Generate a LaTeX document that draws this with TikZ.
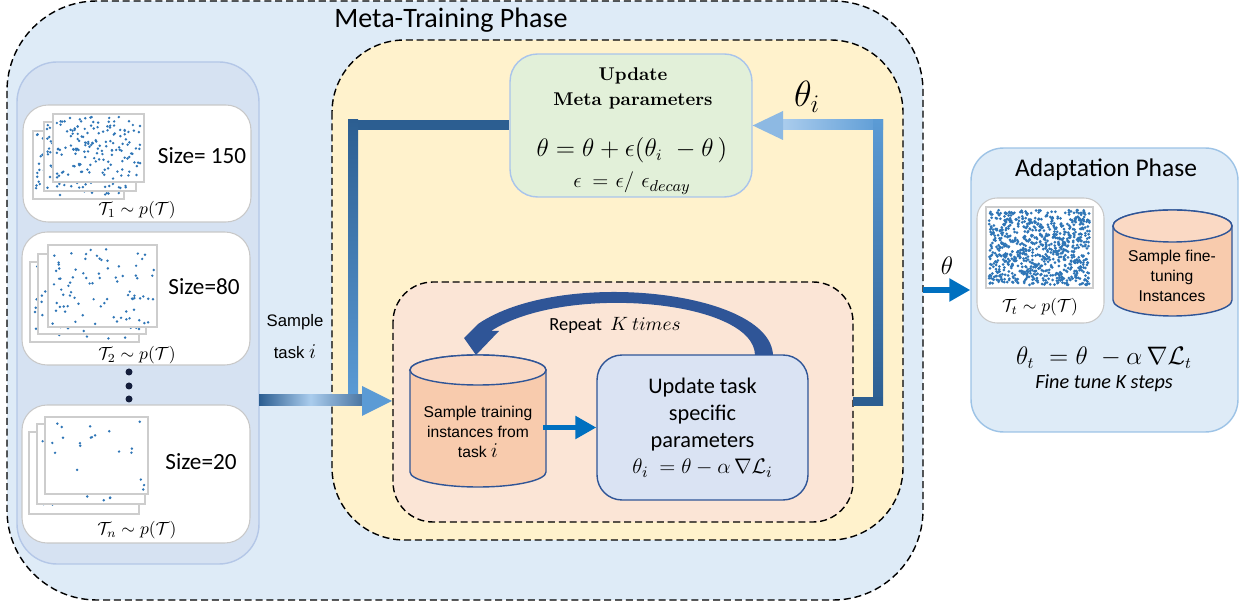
\documentclass[tikz,border=0pt]{standalone}
\usepackage{amsmath,amssymb}
\usepackage{fontspec}
\newfontfamily\calib{Carlito}
\newfontfamily\arial{Liberation Sans}
\usepackage{tikz}
\usetikzlibrary{arrows.meta}
\definecolor{metabg}{RGB}{222,235,247}
\definecolor{panelbg}{RGB}{214,226,242}
\definecolor{panelline}{RGB}{180,199,231}
\definecolor{cardline}{RGB}{200,200,200}
\definecolor{plotline}{RGB}{205,205,205}
\definecolor{innerbg}{RGB}{255,242,204}
\definecolor{loopbg}{RGB}{251,229,214}
\definecolor{greenbg}{RGB}{226,240,217}
\definecolor{greenline}{RGB}{169,196,235}
\definecolor{cylfill}{RGB}{248,203,173}
\definecolor{cyltop}{RGB}{250,217,196}
\definecolor{darkblue}{RGB}{47,85,151}
\definecolor{taskbg}{RGB}{218,227,243}
\definecolor{adaptline}{RGB}{157,195,230}
\definecolor{arrowblue}{RGB}{0,112,192}
\definecolor{dotblue}{RGB}{46,117,182}
\definecolor{loopdark}{RGB}{44,94,145}
\definecolor{looplight}{RGB}{91,155,213}
\definecolor{looppale}{RGB}{141,185,227}
\definecolor{barpale}{RGB}{170,204,237}
\definecolor{navy}{RGB}{20,30,60}

% x1, y1, x2, y2, number of dots, dot radius (px)
\newcommand{\taskplot}[6]{%
  \draw [draw=plotline, fill=white, line width=0.6pt] (#1,#2) rectangle (#3,#4);
  \foreach \k in {1,...,#5}{
    \pgfmathsetmacro\px{#1+3+rnd*(#3-#1-6)}
    \pgfmathsetmacro\py{#2+3+rnd*(#4-#2-6)}
    \fill [dotblue] (\px,\py) circle (#6*0.02cm);
  }}
% centre x, top y, bottom y, x radius, y radius (px)
\newcommand{\drum}[5]{%
  \pgfmathsetmacro\drx{#4*0.02}
  \pgfmathsetmacro\dry{#5*0.02}
  \filldraw [fill=cylfill, draw=darkblue, line width=0.8pt] (#1-#4,#2) -- (#1-#4,#3)
    arc [start angle=180, end angle=360, x radius=\drx cm, y radius=\dry cm] -- (#1+#4,#2)
    arc [start angle=0, end angle=180, x radius=\drx cm, y radius=\dry cm] -- cycle;
  \filldraw [fill=cyltop, draw=darkblue, line width=0.8pt] (#1,#2) ellipse [x radius=\drx cm, y radius=\dry cm];
}

\begin{document}
\begin{tikzpicture}[x=0.02cm, y=-0.02cm]
\tikzstyle{every node}=[font=\calib, inner sep=0pt]
\tikzstyle{phase}=[dash pattern=on 4pt off 2.2pt, line width=0.8pt]
\tikzstyle{card}=[draw=cardline, fill=white, line width=0.6pt, rounded corners=0.5cm]
\tikzstyle{sizetext}=[font=\calib\fontsize{13.2}{15}\selectfont]
\tikzstyle{tasklabel}=[font=\fontsize{10}{12}\selectfont]
\tikzstyle{drumtext}=[font=\arial\fontsize{8.9}{11.3}\selectfont, align=center]
\tikzstyle{fatarrow}=[arrowblue, line width=3.4pt, -{Triangle[length=0.42cm, width=0.44cm]}]
\pgfmathsetseed{11}
\useasboundingbox (0,0) rectangle (1241,607);

\draw [phase, fill=metabg, rounded corners=1.8cm] (7,1) rectangle (923,600);
\node [font=\calib\fontsize{16}{18}\selectfont] (metaTitle) at (451,20) {Meta-Training Phase};

\draw [line width=0.8pt, draw=panelline, fill=panelbg, rounded corners=0.8cm] (17,62) rectangle (259,564);
\node [card, minimum width=4.56cm, minimum height=2.34cm] (cardA) at (137,163.5) {};
\taskplot{33}{131}{124}{199}{150}{1.35}
\taskplot{44}{122}{136}{191}{150}{1.35}
\taskplot{53}{114}{144}{182}{150}{1.35}
\node [sizetext] (sizeA) at (202,156) {Size= 150};
\node [tasklabel] (labA) at (137,210) {$\mathcal{T}_1 \sim p(\mathcal{T})$};

\node [card, minimum width=4.56cm, minimum height=2.66cm] (cardB) at (136,298.5) {};
\taskplot{30}{262}{139}{342}{80}{1.35}
\taskplot{38}{254}{146}{334}{80}{1.35}
\taskplot{48}{245}{157}{327}{80}{1.35}
\node [sizetext] (sizeB) at (204,287) {Size=80};
\node [tasklabel] (labB) at (137,355) {$\mathcal{T}_2 \sim p(\mathcal{T})$};

\foreach \yy in {372,386,399} \fill [navy] (129,\yy) circle (0.07cm);

\node [card, minimum width=4.56cm, minimum height=2.76cm] (cardN) at (136,474) {};
\taskplot{29}{432}{139}{514}{20}{1.35}
\taskplot{37}{424}{145}{504}{20}{1.35}
\taskplot{45}{417}{148}{494}{20}{1.35}
\node [sizetext] (sizeN) at (201,462) {Size=20};
\node [tasklabel] (labN) at (137,530) {$\mathcal{T}_n \sim p(\mathcal{T})$};

\node [font=\arial\fontsize{9.5}{11}\selectfont] (sampleWord) at (295,322) {Sample};
\node [font=\arial\fontsize{9.5}{11}\selectfont] (taskWord) at (295,352) {task {\fontsize{13}{12}\selectfont$i$}};

\draw [phase, fill=innerbg, rounded corners=1.45cm] (332,40) rectangle (903,540);
\draw [phase, fill=loopbg, rounded corners=0.8cm] (393,282) rectangle (853,522);

\node [draw=greenline, fill=greenbg, line width=0.8pt, rounded corners=0.55cm, minimum width=4.84cm, minimum height=2.86cm] (metaUpd) at (631,125.5) {};
\node [font=\bfseries\fontsize{10.5}{14}\selectfont, align=center] (metaUpdTitle) at (633,88.5) {Update\\Meta parameters};
\node [font=\fontsize{13.5}{18}\selectfont, align=center] (metaUpdEq) at (632,166) {$\theta = \theta + \epsilon(\theta_i\ - \theta\,)$\\{\fontsize{12.5}{18}\selectfont$\epsilon\ \,{=}\ \epsilon/\ \epsilon_{decay}$}};
\node [font=\fontsize{20}{22}\selectfont] (thetaI) at (807,97) {$\theta_i$};

\fill [loopdark] (348,120) rectangle (metaUpd.west |- 0,130);
\shade [top color=loopdark, bottom color=looplight] (348,120) rectangle (358,398);
\shade [left color=barpale, right color=looplight] (783,120) rectangle (883,130);
\shade [top color=looplight, bottom color=loopdark] (873,120) rectangle (883,406);
\fill [loopdark] (853,397) rectangle (883,406);
\fill [looppale] (metaUpd.east) -- (783,111) -- (783,140) -- cycle;

\shade [left color=loopdark, right color=loopdark!85!white, middle color=barpale] (259,395) rectangle (362,406);
\fill [looplight] (362,386) -- (392,401) -- (362,416) -- cycle;

\drum{478}{370}{472}{68}{15}
\node [drumtext, minimum width=2.6cm] (cylTrain) at (478,432) {Sample training\\instances from\\task {\fontsize{13}{11.3}\selectfont$i$}};

\node [draw=darkblue, fill=taskbg, line width=0.8pt, rounded corners=0.5cm, minimum width=4.22cm, minimum height=2.9cm, align=center, font=\calib\fontsize{12.7}{15.3}\selectfont] (taskUpd) at (702.5,427.5) {Update task\\specific\\parameters\\$\theta_i\ = \theta - \alpha\,\nabla\mathcal{L}_i$};
\draw [fatarrow] (cylTrain.east |- taskUpd.west) -- (taskUpd.west);

\fill [darkblue] (755,355) -- (773,355) .. controls (770,290) and (560,268) .. (478,324) -- (464,338) -- (476,355) -- (499,331) -- (491,331) .. controls (565,283) and (754,300) .. (755,355) -- cycle;
\node [font=\calib\fontsize{10.5}{12}\selectfont] (repeatTxt) at (615,325) {Repeat\ \ $K\ times$};

\node [draw=adaptline, fill=metabg, line width=0.8pt, rounded corners=0.65cm, minimum width=5.34cm, minimum height=5.68cm] (adaptPhase) at (1104.5,290) {};
\coordinate (thetaOut) at (923,290);
\draw [fatarrow] (thetaOut) -- (thetaOut -| adaptPhase.west);
\node [font=\fontsize{15}{16}\selectfont] (thetaLbl) at (947,266) {$\theta$};

\node [font=\calib\fontsize{14.5}{16}\selectfont] (adaptTitle) at (1106,170) {Adaptation Phase};
\node [card, rounded corners=0.4cm, minimum width=2.54cm, minimum height=2.5cm] (cardT) at (1040.5,260.5) {};
\taskplot{986}{207}{1093}{288}{850}{1.5}
\node [tasklabel] (labT) at (1040,307) {$\mathcal{T}_t \sim p(\mathcal{T})$};
\drum{1172.5}{226}{300}{59.5}{16}
\node [drumtext] (cylTune) at (1172,276) {Sample fine-\\tuning\\Instances};
\node [font=\fontsize{13.5}{14}\selectfont] (adaptEq) at (1104,358) {$\theta_t\ = \theta\ - \alpha\,\nabla\mathcal{L}_t$};
\node [font=\calib\itshape\fontsize{11.5}{12}\selectfont] (adaptSteps) at (1104,383) {Fine tune K steps};
\end{tikzpicture}
\end{document}
